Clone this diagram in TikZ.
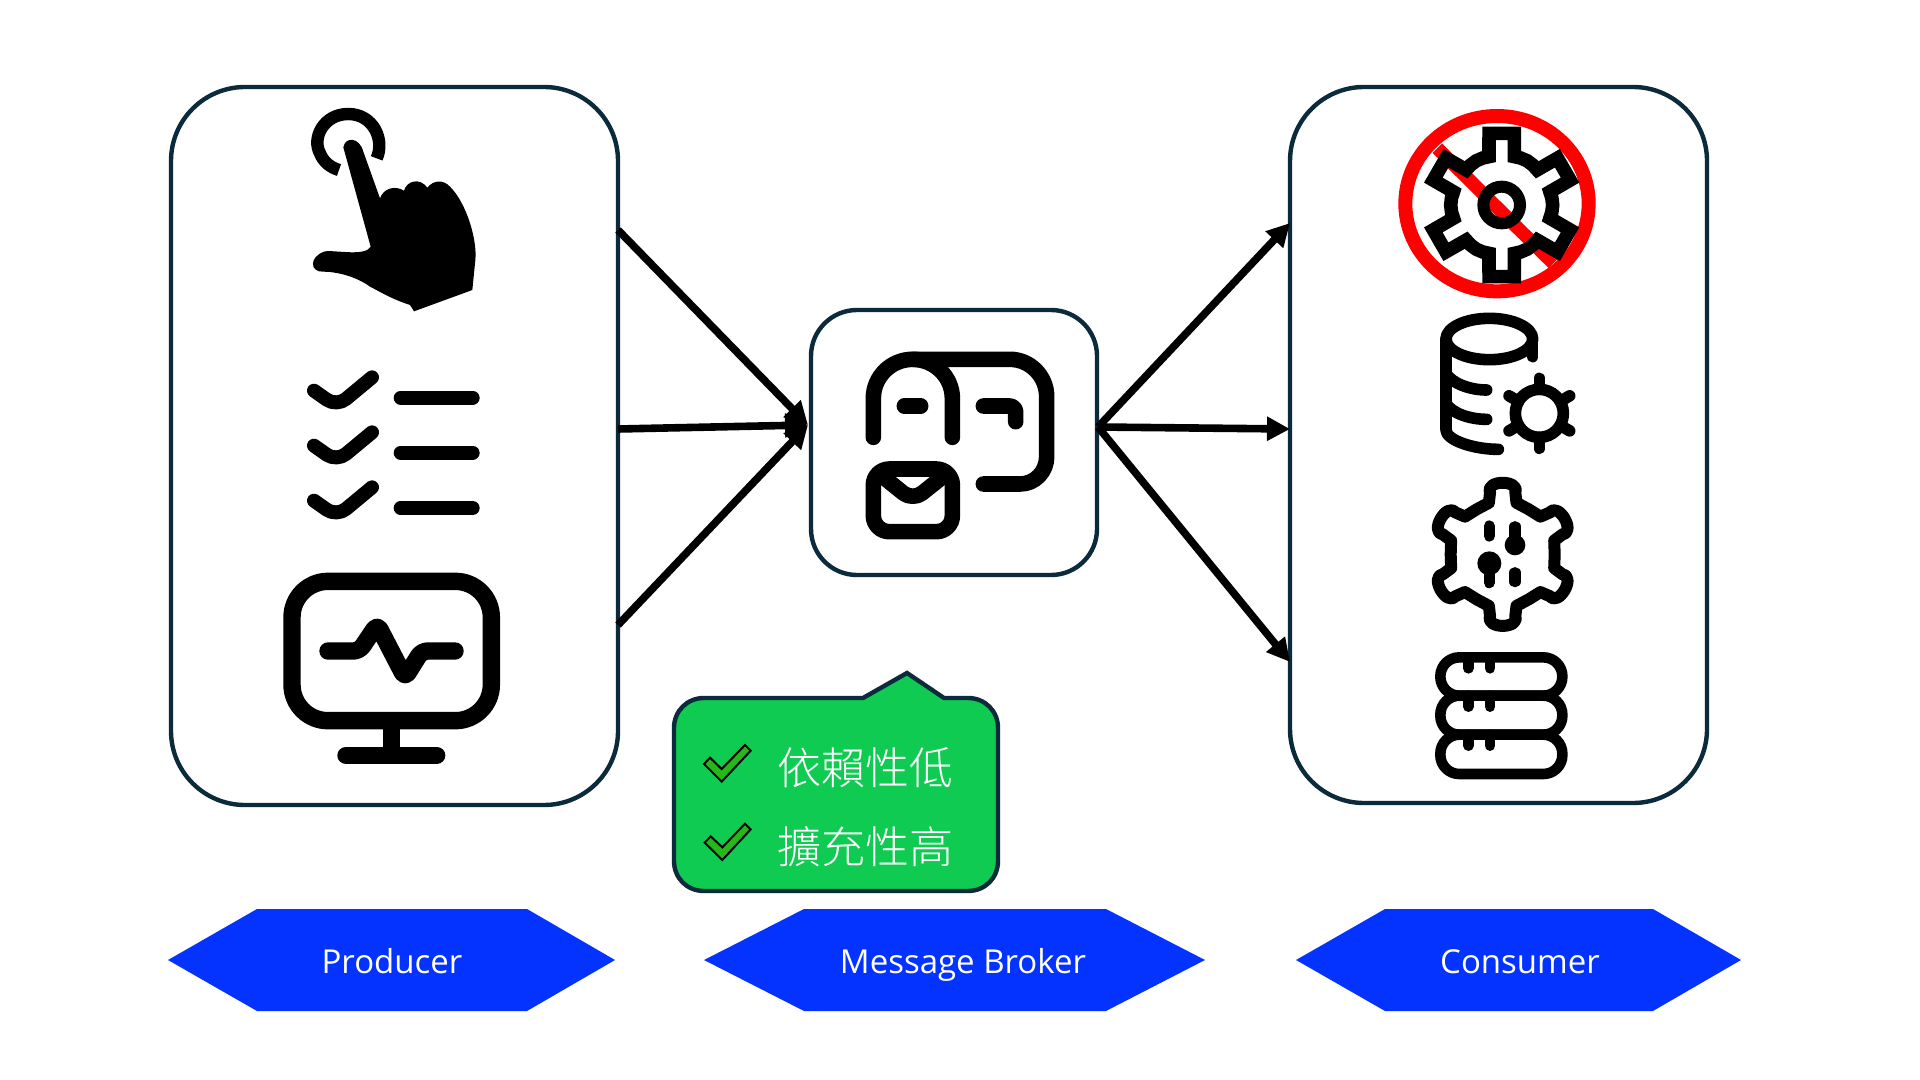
\documentclass[tikz,border=0pt]{standalone}
\usepackage{fontspec}
\setmainfont{Open Sans}
\IfFontExistsTF{Noto Sans CJK TC Light}{\newfontfamily\cjk{Noto Sans CJK TC Light}}{\newfontfamily\cjk{Noto Sans CJK TC}}
\usetikzlibrary{arrows.meta,calc}
\definecolor{navy}{HTML}{0B2A3C}
\definecolor{callgreen}{HTML}{10CB52}
\definecolor{checkgreen}{HTML}{25B81A}
\definecolor{hexblue}{HTML}{0433FF}
\tikzset{
  zc/.style 2 args={shift={(#1,#2)},x=0.16667pt,y=-0.16667pt},
  panel/.style={draw=navy,line width=2.2pt,fill=white,rounded corners=#1,inner sep=0pt},
  icon/.style={draw=black,line width=#1,line cap=round,line join=round},
  conn/.style={draw=black,line width=3.8pt,-{Triangle[length=11.5pt,width=11.5pt]},shorten >=0pt},
  hexa/.style={fill=hexblue},
  hexlabel/.style={text=white,font=\fontsize{16.5}{20}\selectfont,inner sep=0pt,anchor=base},
  cjklabel/.style={text=white,font=\cjk\fontsize{22}{26}\selectfont,inner sep=0pt},
  tick/.style={fill=checkgreen,draw=black,line width=1pt,line join=miter}
}
\begin{document}
\begin{tikzpicture}[x=0.5pt,y=-0.5pt]
\useasboundingbox (0,0) rectangle (1920,1080);
\fill[white] (0,0) rectangle (1920,1080);

% panels
\node[panel=37pt,minimum width=223.5pt,minimum height=359pt] (prod) at (394.5,446) {};
\node[panel=23pt,minimum width=143pt,minimum height=132.5pt] (brok) at (954,442.5) {};
\node[panel=37pt,minimum width=208.5pt,minimum height=358pt] (cons) at (1498.5,445) {};

% connector ends
\coordinate (pa) at (618,230);
\coordinate (pb) at (618,429);
\coordinate (pc) at (618,625);
\coordinate (bin) at (808,425);
\coordinate (bout) at (1098,427);
\coordinate (ca) at (1290,223);
\coordinate (cb) at (1290,429);
\coordinate (cc) at (1290,662);
\draw[conn] (pa) -- (bin);
\draw[conn] (pb) -- (bin);
\draw[conn] (pc) -- (bin);
\draw[conn] (bout) -- (ca);
\draw[conn] (bout) -- (cb);
\draw[conn] (bout) -- (cc);

% hand
\begin{scope}[zc={270}{90}]
\draw[icon=6.2pt,line cap=butt] (320,205) .. controls (345,150) and (310,72) .. (235,72) .. controls (160,72) and (125,145) .. (150,190) .. controls (160,215) and (180,232) .. (207,240);
\fill[black] (220,172) .. controls (225,140) and (268,140) .. (280,185) -- (330,325) .. controls (340,295) and (375,285) .. (402,302) .. controls (410,272) and (450,262) .. (472,293) .. controls (490,270) and (520,268) .. (540,290) .. controls (590,340) and (622,450) .. (616,510) -- (607,600) -- (432,664) -- (420,645) .. controls (360,625) and (330,605) .. (300,590) .. controls (260,560) and (200,545) .. (160,545) .. controls (120,548) and (115,500) .. (165,484) .. controls (200,480) and (285,500) .. (302,470) -- cycle;
\end{scope}

% checklist
\begin{scope}[zc={270}{350}]
\foreach \d in {0,165,330}{
  \draw[icon=7pt,rounded corners=6pt] (132,\d+122) -- (200,\d+170) -- (306,\d+82);
}
\foreach \y in {143,308,474}{
  \draw[icon=7pt] (392,\y) -- (608,\y);
}
% monitor
\draw[icon=8.7pt,rounded corners=18pt] (66,694) rectangle (664,1112);
\draw[icon=8.7pt,line cap=butt] (364,1112) -- (364,1216);
\draw[icon=8.7pt] (228,1216) -- (500,1216);
\draw[icon=8.7pt,rounded corners=3pt] (174,903) -- (268,903) -- (322,823) -- (405,983) -- (455,903) -- (555,903);
\end{scope}

% broker icon
\begin{scope}[zc={790}{300}]
\draw[icon=7.8pt] (250,412) -- (250,295) .. controls (250,230) and (303,178) .. (368,178) .. controls (433,178) and (487,230) .. (487,295) -- (487,412);
\draw[icon=7.8pt] (368,178) -- (660,178) .. controls (720,178) and (770,228) .. (770,290) -- (770,470) .. controls (770,515) and (735,552) .. (690,552) -- (580,552);
\draw[icon=7.8pt] (343,318) -- (392,318);
\draw[icon=7.8pt,rounded corners=3pt] (580,318) -- (677,318) -- (677,365);
\draw[icon=7.8pt,rounded corners=8pt] (250,507) rectangle (487,695);
\draw[icon=7.8pt,rounded corners=6pt] (285,535) -- (368,602) -- (452,535);
\end{scope}

% gear with prohibition sign
\begin{scope}[zc={1380}{90}]
\draw[red,line width=7pt] (351,341) ellipse[x radius=275,y radius=263];
\draw[red,line width=6.7pt] (172,175) -- (520,520);
\end{scope}
\begin{scope}[zc={1380}{90},shift={(365,345)}]
\draw[line width=6.8pt,line join=miter,black]
  (0:153) \foreach \a in {30,90,...,330}{ -- ({\a-22}:152) -- ({\a-14.7}:150) -- ({\a-10}:218.3) -- ({\a+10}:218.3) -- ({\a+14.7}:150) -- ({\a+22}:152) -- ({\a+30}:153)} -- cycle;
\draw[line width=6pt,black] (0,0) circle[radius=55];
\end{scope}

% database with gear
\begin{scope}[zc={1380}{90}]
\draw[icon=5.8pt] (328,747) ellipse[x radius=130,y radius=62];
\draw[icon=5.8pt] (458,747) -- (458,800);
\draw[icon=5.8pt] (198,747) -- (198,1020) .. controls (198,1050) and (280,1078) .. (355,1078);
\draw[icon=5.8pt] (198,850) .. controls (215,880) and (270,900) .. (320,900);
\draw[icon=5.8pt] (198,940) .. controls (215,970) and (270,988) .. (320,988);
\draw[icon=5.8pt] (478,970) circle[radius=72];
\foreach \a in {30,90,...,330}{
  \draw[icon=5.8pt] ($(478,970)+(\a:72)$) -- ($(478,970)+(\a:105)$);
}
\end{scope}

% virus-like gear
\begin{scope}[zc={1400}{460},shift={(308,283)}]
\draw[icon=6pt] (0:156) \foreach \a in {30,90,...,330}{
   -- ({\a-15}:160) -- ({\a-11.5}:190)
   .. controls ({\a-13}:230) and ({\a+13}:230) .. ({\a+11.5}:190) -- ({\a+15}:160)
   -- ({\a+30}:156)} -- cycle;
\end{scope}
\begin{scope}[zc={1400}{460}]
\draw[icon=5.6pt] (268,198) -- (268,228);
\draw[icon=5.6pt] (345,200) -- (345,245);
\fill (345,255) circle[radius=31];
\fill (268,310) circle[radius=36];
\draw[icon=5.6pt] (268,320) -- (268,368);
\draw[icon=5.6pt] (345,338) -- (345,365);
\end{scope}

% server stack
\begin{scope}[zc={1400}{460}]
\draw[icon=5.3pt,rounded corners=9.5pt] (121,592) rectangle (487,707);
\draw[icon=5.3pt,rounded corners=9.5pt] (121,707) rectangle (487,824);
\draw[icon=5.3pt,rounded corners=9.5pt] (121,824) rectangle (487,942);
\foreach \y in {592,707,824}{
  \draw[icon=5.3pt] (205,\y) -- (205,\y+33);
  \draw[icon=5.3pt] (270,\y) -- (270,\y+33);
}
\end{scope}

% callout
\draw[navy,line width=2.2pt,fill=callgreen,line join=miter]
  (863,698) -- (907,673) -- (944,698) -- (968,698) .. controls (985,698) and (998,711) .. (998,728) -- (998,861) .. controls (998,878) and (985,891) .. (968,891) -- (704,891) .. controls (687,891) and (674,878) .. (674,861) -- (674,728) .. controls (674,711) and (687,698) .. (704,698) -- cycle;
\begin{scope}[zc={660}{660}]
\draw[tick] (132,312) -- (150,293) -- (185,327) -- (255,255) -- (272,272) -- (185,365) -- cycle;
\draw[tick] (134,548) -- (152,529) -- (187,562) -- (255,491) -- (272,508) -- (187,600) -- cycle;
\end{scope}
\node[cjklabel] (t1) at (865,768) {依賴性低};
\node[cjklabel] (t2) at (865,847) {擴充性高};

% bottom labels
\fill[hexa] (168,960) -- (257,909) -- (527,909) -- (615,960) -- (527,1011) -- (257,1011) -- cycle;
\fill[hexa] (704,960) -- (804,909) -- (1106,909) -- (1205,960) -- (1106,1011) -- (804,1011) -- cycle;
\fill[hexa] (1296,960) -- (1385,909) -- (1653,909) -- (1741,960) -- (1653,1011) -- (1385,1011) -- cycle;
\node[hexlabel] (lp) at (392,973) {Producer};
\node[hexlabel] (lb) at (963,973) {Message Broker};
\node[hexlabel] (lc) at (1520,973) {Consumer};
\end{tikzpicture}
\end{document}
